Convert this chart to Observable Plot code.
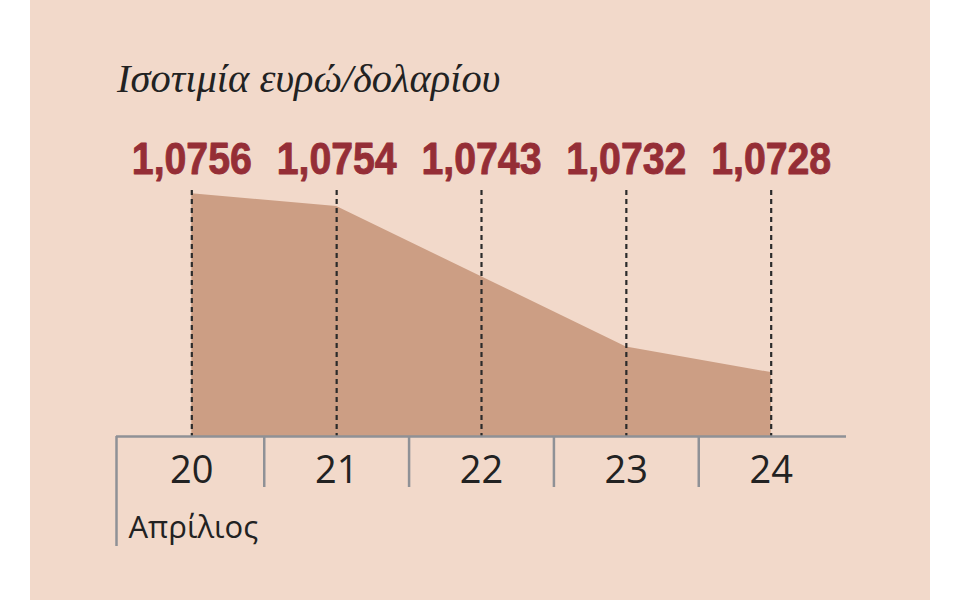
<!DOCTYPE html>
<html>
<head>
<meta charset="utf-8">
<script src="https://cdn.jsdelivr.net/npm/d3@7"></script>
<script src="https://cdn.jsdelivr.net/npm/@observablehq/plot@0.6"></script>
<style>
  html, body { margin: 0; padding: 0; background: #ffffff; }
  #panel { position: absolute; left: 30px; top: 0; width: 900px; height: 600px; background: #F2D9CA; overflow: hidden; }
  #title { height: 110px; box-sizing: border-box; padding-top: 59px; padding-left: 87px;
           font-family: "Liberation Serif", serif; font-style: italic; font-size: 40.5px; line-height: 40px; color: #222; }
  svg { display: block; overflow: visible; }
</style>
</head>
<body>
<div id="panel">
  <div id="title">Ισοτιμία ευρώ/δολαρίου</div>
  <div id="chart"></div>
</div>
<script>
const days = [20, 21, 22, 23, 24];
const rates = [1.0756, 1.0754, 1.0743, 1.0732, 1.0728];
const monthLabel = "Απρίλιος";
const yMin = 1.0718;
const yMax = 1.07565;
const xMin = 19.48;
const xMax = 24.52;

const data = days.map((d, i) => ({day: d, rate: rates[i], label: rates[i].toFixed(4).replace(".", ",")}));
const separators = days.slice(0, -1).map(d => d + 0.5);

const axisGray = "#8f9196";
const red = "#952E36";
const chart = Plot.plot({
  width: 900,
  height: 490,
  marginTop: 80,
  marginBottom: 164,
  marginLeft: 86,
  marginRight: 84,
  style: {background: "transparent", overflow: "visible"},
  x: {domain: [xMin, xMax], axis: null},
  y: {domain: [yMin, yMax], axis: null},
  marks: [
    Plot.area(data, {x1: "day", y1: () => yMin, y2: "rate", fill: "#CC9E84", curve: "linear"}),
    Plot.ruleX(days, {stroke: "#2b2b2b", strokeWidth: 2.2, strokeDasharray: "5,4"}),
    Plot.ruleY([yMin], {stroke: axisGray, strokeWidth: 2.5}),
    Plot.ruleX(separators, {y1: () => yMin, y2: () => yMin, insetBottom: -51, stroke: axisGray, strokeWidth: 2.5}),
    Plot.ruleX([xMin], {y1: () => yMin, y2: () => yMin, insetBottom: -110, stroke: axisGray, strokeWidth: 2.5}),
    Plot.text(days, {x: d => d, text: d => String(d), frameAnchor: "bottom", lineAnchor: "bottom", dy: 46,
      fontFamily: "Open Sans", fontSize: 38, fontWeight: 400, fill: "#222"}),
    Plot.text([monthLabel], {x: () => xMin, text: d => d, frameAnchor: "bottom", lineAnchor: "bottom", textAnchor: "start",
      dx: 12, dy: 101, fontFamily: "Open Sans", fontSize: 31, fontWeight: 400, fill: "#222"}),
    Plot.text(data, {x: "day", text: "label", frameAnchor: "top", lineAnchor: "bottom", dy: -17,
      fontFamily: "Liberation Sans, Arial, sans-serif", fontSize: 45, fontWeight: "bold",
      fill: red, stroke: red, strokeWidth: 0.9})
  ]
});
d3.select(chart).selectAll("text")
  .filter(function() { return /^\d,\d{4}$/.test(this.textContent); })
  .attr("textLength", 120)
  .attr("lengthAdjust", "spacingAndGlyphs");
document.getElementById("chart").appendChild(chart);
</script>
</body>
</html>
